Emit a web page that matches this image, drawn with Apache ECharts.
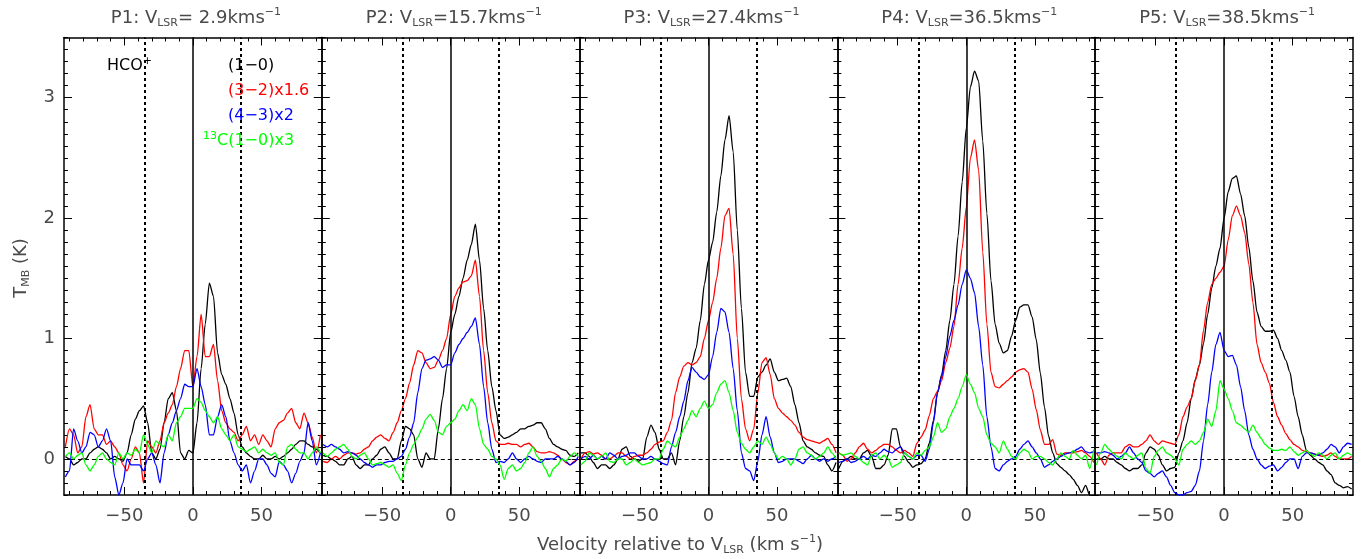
<!DOCTYPE html>
<html><head><meta charset="utf-8">
<script src="https://cdn.jsdelivr.net/npm/echarts@6/dist/echarts.min.js"></script>
<style>html,body{margin:0;padding:0;background:#fff}#c{width:1371px;height:559px}</style>
</head><body><div id="c"></div>
<script>
// velocity grid (km/s relative to V_LSR)
const vel = [-93,-90,-87,-84,-81,-78,-75,-72,-69,-66,-63,-60,-57,-54,-51,-48,-45,-42,-39,-36,-33,-30,-27,-24,-21,-18,-15,-12,-9,-6,-3,0,3,6,9,12,15,18,21,24,27,30,33,36,39,42,45,48,51,54,57,60,63,66,69,72,75,78,81,84,87,90,93];

// P1
const p1_10 = [0.02,0.0,-0.05,-0.03,0.0,0.0,0.05,0.08,0.1,0.08,0.05, 0.0,0.02,0.0,-0.02,0.05,0.2,0.33,0.4,0.44,0.3,0.05, 0.0,0.08,0.3,0.5,0.55,0.4,0.05,0.0,0.07,0.05,0.3, 0.75,1.12,1.46,1.35,0.88,0.7,0.62,0.5,0.38,0.2,0.1, 0.05,0.02,0.0,0.0,0.03,0.0,0.0,0.02,0.0,0.02,0.05, 0.08,0.12,0.15,0.15,0.12,0.1,0.08,0.05];
const p1_32 = [0.1,0.25,0.2,0.05,0.1,0.35,0.45,0.25,0.2,0.2,0.12, 0.15,0.1,0.05,-0.05,-0.1,0.0,0.1,0.05,-0.2,0.15,0.1, 0.05,0.15,0.3,0.38,0.45,0.6,0.75,0.9,0.9,0.6,0.85, 1.2,0.85,0.85,0.95,0.65,0.4,0.3,0.25,0.22,0.15,0.2, 0.27,0.15,0.2,0.12,0.2,0.15,0.1,0.25,0.3,0.32,0.38, 0.42,0.3,0.25,0.38,0.3,0.18,0.05,0.2];
const p1_43 = [-0.15,-0.1,0.25,0.15,0.05,0.1,0.22,0.2,0.1,0.15,0.25, 0.15,-0.15,-0.3,-0.2,0.0,-0.05,-0.05,-0.05,-0.1,0.0,0.05, -0.05,-0.2,0.05,0.2,0.3,0.4,0.5,0.62,0.6,0.6,0.75, 0.6,0.45,0.2,0.2,0.35,0.45,0.35,0.15,0.05,-0.05,-0.1, -0.05,-0.2,-0.1,0.0,0.0,-0.05,-0.12,-0.15,-0.02,-0.05,-0.1, -0.2,-0.12,-0.02,0.05,0.3,0.15,-0.05,0.05];
const p1_13 = [0.02,0.05,0.0,0.03,0.05,-0.05,-0.1,-0.05,0.02,0.05,0.0, -0.03,-0.05,0.05,0.0,0.05,0.03,0.08,0.05,0.2,0.12,0.05, 0.15,0.12,0.1,0.2,0.15,0.3,0.35,0.42,0.42,0.42,0.5, 0.47,0.4,0.35,0.3,0.35,0.25,0.2,0.15,0.2,0.1,0.08, 0.06,0.08,0.1,0.05,0.08,0.05,0.03,0.05,-0.03,-0.05,0.1, 0.12,0.08,0.05,0.05,0.0,0.05,0.1,0.05];
// P2
const p2_10 = [0.03,0.02,0.0,-0.02,-0.05,-0.05,0.0,0.02,-0.05,-0.08,-0.05, -0.05,0.0,0.03,0.08,0.1,0.05,0.0,0.0,0.15,0.27,0.25, 0.2,0.0,-0.07,0.05,0.0,0.0,0.25,0.5,0.75,1.05,1.2, 1.35,1.5,1.65,1.78,1.95,1.65,1.25,0.9,0.6,0.4,0.2, 0.17,0.18,0.2,0.22,0.25,0.25,0.27,0.28,0.3,0.3,0.25, 0.17,0.12,0.1,0.08,0.07,0.03,0.02,0.05];
const p2_32 = [-0.02,-0.03,0.0,0.02,0.0,0.03,0.05,0.05,0.04,0.05,0.08, 0.1,0.15,0.18,0.2,0.17,0.15,0.22,0.3,0.4,0.5,0.63, 0.78,0.9,0.88,0.8,0.75,0.76,0.82,0.9,1.0,1.2,1.35, 1.42,1.47,1.48,1.52,1.65,1.35,0.9,0.55,0.3,0.15,0.12, 0.12,0.13,0.12,0.12,0.1,0.12,0.13,0.1,0.06,0.05,0.05, 0.06,0.05,0.03,0.0,-0.03,-0.05,-0.02,0.0];
const p2_43 = [0.12,0.1,0.12,0.1,0.08,0.05,0.06,0.05,0.03,0.0,-0.03, -0.05,-0.07,-0.05,-0.05,-0.03,-0.02,-0.02,0.0,0.02,0.08,0.18, 0.3,0.55,0.75,0.82,0.83,0.85,0.82,0.76,0.78,0.78,0.88, 0.95,1.0,1.05,1.1,1.17,0.95,0.6,0.3,0.08,-0.03,-0.02, -0.03,0.0,0.05,0.0,-0.03,0.0,0.02,0.0,-0.02,-0.03,0.0, 0.0,0.0,0.02,0.0,-0.02,-0.05,-0.03,0.02];
const p2_13 = [0.05,0.02,0.05,0.08,0.1,0.12,0.08,0.02,0.0,0.03,0.05, 0.0,-0.05,-0.04,-0.03,-0.05,-0.07,-0.05,-0.12,-0.18,-0.05,0.05, 0.12,0.18,0.25,0.33,0.37,0.32,0.22,0.2,0.27,0.3,0.33, 0.4,0.45,0.4,0.5,0.45,0.25,0.12,0.08,0.02,0.0,-0.05, -0.17,-0.08,-0.05,-0.1,-0.08,-0.03,0.05,0.1,0.02,-0.02,-0.08, -0.15,-0.08,-0.05,0.0,-0.02,0.02,0.05,0.02];
// P3
const p3_10 = [0.05,0.05,0.02,-0.03,-0.08,-0.05,-0.05,-0.08,-0.05,0.0,0.08, 0.1,0.02,0.0,-0.02,0.0,0.18,0.28,0.22,0.08,0.0,0.0, 0.05,-0.05,0.15,0.35,0.55,0.8,0.92,1.15,1.45,1.65,1.8, 2.05,2.35,2.65,2.85,2.55,1.9,1.25,0.72,0.52,0.52,0.68, 0.72,0.78,0.83,0.72,0.65,0.66,0.67,0.6,0.45,0.3,0.15, 0.1,0.08,0.05,0.03,0.02,-0.05,-0.1,-0.03];
const p3_32 = [0.0,0.05,0.06,0.04,0.05,0.03,0.0,0.0,0.02,0.05,0.05, 0.02,0.0,0.02,0.03,0.03,0.05,0.08,0.12,0.14,0.15,0.22, 0.32,0.55,0.68,0.77,0.8,0.78,0.8,0.85,1.0,1.15,1.3, 1.5,1.75,2.02,2.08,1.7,1.0,0.5,0.25,0.15,0.25,0.55, 0.8,0.84,0.7,0.5,0.42,0.38,0.35,0.32,0.28,0.22,0.18, 0.16,0.15,0.14,0.13,0.15,0.17,0.12,0.05];
const p3_43 = [0.0,0.02,0.0,0.03,0.0,0.02,0.0,0.05,0.03,0.0,0.02, 0.03,0.05,0.05,0.02,0.0,0.0,0.02,0.0,-0.02,-0.04,-0.05, 0.1,0.22,0.35,0.48,0.65,0.76,0.72,0.68,0.66,0.7,0.85, 1.05,1.25,1.22,1.05,0.75,0.4,0.05,-0.08,-0.1,-0.18,-0.02, 0.2,0.35,0.18,0.05,-0.03,-0.02,0.0,0.0,0.0,-0.02,-0.04, 0.0,0.03,0.0,-0.02,0.0,-0.02,0.0,0.02];
const p3_13 = [-0.05,-0.02,0.05,0.03,0.0,0.02,0.05,-0.02,-0.03,0.0,0.0, -0.05,-0.03,0.0,-0.03,-0.05,-0.04,-0.03,0.0,0.0,0.08,0.15, 0.12,0.1,0.18,0.25,0.32,0.4,0.35,0.42,0.48,0.42,0.45, 0.55,0.62,0.65,0.55,0.4,0.22,0.13,0.08,0.05,0.1,0.15, 0.12,0.18,0.12,0.05,0.0,0.02,0.0,-0.05,0.0,0.08,0.1, 0.05,0.03,0.0,0.02,0.05,0.1,0.05,0.0];
// P4
const p4_10 = [-0.08,-0.02,0.0,0.02,0.0,0.0,0.05,0.07,0.02,-0.08,-0.08, -0.05,0.03,0.25,0.25,0.1,0.02,-0.03,-0.07,-0.05,-0.04,0.0, 0.13,0.32,0.55,0.7,0.9,1.15,1.45,1.85,2.3,2.75,3.09, 3.22,3.14,2.64,2.04,1.48,1.12,0.96,0.88,0.9,1.02,1.15, 1.26,1.28,1.28,1.18,0.99,0.71,0.43,0.19,0.05,-0.04,-0.07, -0.1,-0.13,-0.17,-0.22,-0.28,-0.22,-0.3,-0.35];
const p4_32 = [0.05,0.03,-0.02,0.0,0.05,0.1,0.13,0.08,0.05,0.07,0.1, 0.12,0.12,0.1,0.07,0.05,0.07,0.05,0.02,0.13,0.18,0.24, 0.36,0.5,0.56,0.65,0.8,0.92,1.1,1.45,1.75,2.09,2.5, 2.65,2.4,1.72,1.12,0.72,0.6,0.59,0.62,0.65,0.68,0.72, 0.74,0.75,0.72,0.58,0.41,0.24,0.12,0.12,0.16,0.04,0.03, 0.05,0.05,0.05,0.06,0.07,0.05,0.02,-0.03];
const p4_43 = [-0.03,-0.02,0.0,-0.03,-0.02,0.0,0.02,0.0,0.03,0.02,0.05, 0.08,0.06,0.05,0.08,0.1,0.05,0.02,0.0,0.03,0.03,-0.02, 0.08,0.3,0.55,0.68,0.85,1.02,1.15,1.28,1.45,1.57,1.5, 1.38,1.1,0.78,0.35,0.1,-0.08,-0.1,-0.05,-0.02,0.0,0.02, 0.08,0.12,0.15,0.1,0.05,0.0,-0.07,-0.05,-0.02,0.0,0.02, 0.04,0.05,0.06,0.08,0.1,0.06,0.05,0.06];
const p4_13 = [0.05,0.03,0.04,0.05,0.02,0.0,-0.03,-0.05,0.03,0.05,0.0, 0.03,0.0,-0.07,-0.05,-0.03,0.05,0.02,0.0,0.05,0.03,0.07, 0.1,0.18,0.3,0.22,0.25,0.35,0.42,0.5,0.6,0.7,0.62, 0.55,0.42,0.35,0.2,0.13,0.1,0.05,0.15,0.08,0.02,0.0, 0.05,0.08,0.06,0.0,0.02,0.02,0.0,-0.03,-0.05,0.0,0.05, 0.02,0.0,0.07,0.03,0.0,0.03,-0.08,0.08];
// P5
const p5_10 = [0.0,0.0,0.02,0.0,0.0,-0.03,-0.05,-0.08,-0.1,-0.08,-0.08, -0.05,0.05,0.1,0.08,0.03,-0.05,-0.1,-0.08,-0.07,0.05,0.15, 0.3,0.5,0.66,0.78,0.96,1.2,1.42,1.6,1.75,2.0,2.22, 2.33,2.35,2.2,2.02,1.76,1.48,1.22,1.1,1.06,1.06,1.07, 1.0,0.9,0.82,0.72,0.52,0.35,0.2,0.07,0.03,0.0,-0.03, -0.05,-0.1,-0.13,-0.2,-0.22,-0.24,-0.23,-0.25];
const p5_32 = [0.05,0.0,-0.05,0.03,0.05,0.05,0.05,0.1,0.12,0.1,0.1, 0.12,0.15,0.2,0.15,0.12,0.15,0.14,0.13,0.12,0.2,0.35, 0.43,0.5,0.65,0.78,1.07,1.3,1.45,1.5,1.55,1.6,1.82, 2.02,2.1,2.02,1.88,1.62,1.3,0.95,0.8,0.72,0.63,0.47, 0.35,0.28,0.21,0.16,0.12,0.1,0.07,0.06,0.05,0.04,0.03, 0.02,0.03,0.05,0.02,0.0,0.0,0.0,0.02];
const p5_43 = [0.05,0.05,0.06,0.05,0.03,0.0,0.02,0.05,0.1,0.05,0.0, -0.03,-0.1,-0.12,-0.15,-0.12,-0.1,-0.15,-0.22,-0.28,-0.3,-0.3, -0.28,-0.27,-0.22,-0.1,0.15,0.45,0.72,0.95,1.05,0.9,0.85, 0.86,0.78,0.6,0.4,0.2,0.08,0.0,-0.05,-0.08,-0.06,-0.05, -0.1,-0.07,-0.03,0.0,0.0,-0.08,0.02,0.05,0.05,0.04,0.03, 0.05,0.08,0.12,0.1,0.05,0.1,0.13,0.12];
const p5_13 = [-0.05,0.05,0.12,0.08,0.05,0.02,0.0,0.05,0.02,0.0,0.03, 0.05,-0.08,-0.12,0.02,0.07,0.1,0.05,0.03,0.0,-0.05,0.08, 0.12,0.15,0.12,0.15,0.22,0.33,0.27,0.4,0.65,0.58,0.5, 0.4,0.3,0.28,0.25,0.22,0.28,0.22,0.17,0.12,0.09,0.07, 0.07,0.08,0.07,0.1,0.06,0.03,0.05,0.07,0.04,0.02,0.05, 0.03,0.0,0.03,0.05,0.0,0.03,0.05,0.03];

const panelNames = ['P1', 'P2', 'P3', 'P4', 'P5'];
const vlsrText = ['= 2.9', '=15.7', '=27.4', '=36.5', '=38.5'];
const panelData = [
  [p1_10, p1_32, p1_43, p1_13],
  [p2_10, p2_32, p2_43, p2_13],
  [p3_10, p3_32, p3_43, p3_13],
  [p4_10, p4_32, p4_43, p4_13],
  [p5_10, p5_32, p5_43, p5_13]
];
const lineNames = ['(1-0)', '(3-2)x1.6', '(4-3)x2', '13C(1-0)x3'];
const lineColors = ['#000000', '#ff0000', '#0000ff', '#00ff00'];
const xMajorTicks = [-50, 0, 50];
const xMinorTicks = [-90, -80, -70, -60, -50, -40, -30, -20, -10, 0, 10, 20, 30, 40, 50, 60, 70, 80, 90];
const yMajorTicks = [0, 1, 2, 3];
const yMinorTicks = [];
for (let i = -3; i <= 35; i++) yMinorTicks.push(Math.round(i) / 10);
const dottedVel = [-35, 35];

const X0 = 64, PW = 257.8, TOP = 37.5, PH = 457.5;
const XMIN = -94, XMAX = 94, YMIN = -0.3, YMAX = 3.5;
const GRAY = '#4a4a4a';
const FONT = 'DejaVu Sans';
const minusFmt = v => (v < 0 ? '\u2212' : '') + Math.abs(v);

const grids = [], xAxes = [], yAxes = [], series = [], graphics = [];

function xAxis(k, pos, ticks, len, line, labels) {
  return {
    type: 'value', gridIndex: k, position: pos, min: XMIN, max: XMAX,
    axisLine: { show: line, onZero: false, lineStyle: { color: '#000', width: 1.5 } },
    axisTick: { show: true, inside: true, length: len, customValues: ticks, lineStyle: { color: '#000', width: 1 } },
    axisLabel: { show: labels, customValues: xMajorTicks, formatter: minusFmt, color: GRAY, fontSize: 18, fontFamily: FONT, margin: 12 },
    splitLine: { show: false }
  };
}
function yAxis(k, pos, ticks, len, line, labels) {
  return {
    type: 'value', gridIndex: k, position: pos, min: YMIN, max: YMAX,
    axisLine: { show: line, onZero: false, lineStyle: { color: '#000', width: 1.5 } },
    axisTick: { show: true, inside: true, length: len, customValues: ticks, lineStyle: { color: '#000', width: 1 } },
    axisLabel: { show: labels, customValues: yMajorTicks, color: GRAY, fontSize: 18, fontFamily: FONT, margin: 9 },
    splitLine: { show: false }
  };
}

for (let k = 0; k < 5; k++) {
  const left = X0 + k * PW;
  grids.push({ left: left, top: TOP, width: PW, height: PH, containLabel: false, outerBoundsMode: 'none' });
  const xi = xAxes.length, yi = yAxes.length;
  xAxes.push(xAxis(k, 'bottom', xMajorTicks, 8, true, true));
  xAxes.push(xAxis(k, 'bottom', xMinorTicks, 4, false, false));
  xAxes.push(xAxis(k, 'top', xMajorTicks, 8, true, false));
  xAxes.push(xAxis(k, 'top', xMinorTicks, 4, false, false));
  yAxes.push(yAxis(k, 'left', yMajorTicks, 8, true, k === 0));
  yAxes.push(yAxis(k, 'left', yMinorTicks, 4, false, false));
  yAxes.push(yAxis(k, 'right', yMajorTicks, 8, true, false));
  yAxes.push(yAxis(k, 'right', yMinorTicks, 4, false, false));

  panelData[k].forEach((arr, j) => {
    const s = {
      type: 'line', name: panelNames[k] + ' ' + lineNames[j], xAxisIndex: xi, yAxisIndex: yi,
      data: vel.map((v, i) => [v, arr[i]]),
      showSymbol: false, symbol: 'none', silent: true, animation: false, clip: true,
      smooth: 0.25, smoothMonotone: 'x',
      lineStyle: { color: lineColors[j], width: 1.3 }, itemStyle: { color: lineColors[j] }, z: 3 + j
    };
    if (j === 0) {
      s.markLine = {
        silent: true, animation: false, symbol: ['none', 'none'], label: { show: false },
        data: [
          { xAxis: 0, lineStyle: { type: 'solid', width: 1.5, color: '#000' } },
          { xAxis: dottedVel[0], lineStyle: { type: [3, 3], width: 2, color: '#000' } },
          { xAxis: dottedVel[1], lineStyle: { type: [3, 3], width: 2, color: '#000' } },
          { yAxis: 0, lineStyle: { type: [4, 3], width: 1, color: '#000' } }
        ]
      };
    }
    series.push(s);
  });

  graphics.push({
    type: 'text', x: left + PW / 2 + 3, y: 18, z: 100,
    style: {
      text: '{a|' + panelNames[k] + ': V}{s|LSR}{a|' + vlsrText[k] + 'kms}{p|\u22121}',
      align: 'center', verticalAlign: 'middle',
      rich: {
        a: { fontSize: 18, fontFamily: FONT, fill: GRAY, lineHeight: 22 },
        s: { fontSize: 11, fontFamily: FONT, fill: GRAY, lineHeight: 10, verticalAlign: 'bottom' },
        p: { fontSize: 11, fontFamily: FONT, fill: GRAY, lineHeight: 16, verticalAlign: 'top' }
      }
    }
  });
}

function legendText(txt, x, y, color) {
  return {
    type: 'text', x: x, y: y, z: 100,
    style: {
      text: txt, align: 'left', verticalAlign: 'middle',
      rich: {
        a: { fontSize: 16, fontFamily: FONT, fill: color, lineHeight: 20 },
        p: { fontSize: 11, fontFamily: FONT, fill: color, lineHeight: 14, verticalAlign: 'top' }
      }
    }
  };
}
graphics.push(legendText('{a|HCO}{p|+}', 107, 66, '#000'));
graphics.push(legendText('{a|(1\u22120)}', 228, 66, lineColors[0]));
graphics.push(legendText('{a|(3\u22122)x1.6}', 228, 91, lineColors[1]));
graphics.push(legendText('{a|(4\u22123)x2}', 228, 116, lineColors[2]));
graphics.push(legendText('{p|13}{a|C(1\u22120)x3}', 203, 141, lineColors[3]));

graphics.push({
  type: 'text', x: 680, y: 545, z: 100,
  style: {
    text: '{a|Velocity relative to V}{s|LSR}{a| (km s}{p|\u22121}{a|)}',
    align: 'center', verticalAlign: 'middle',
    rich: {
      a: { fontSize: 18, fontFamily: FONT, fill: GRAY, lineHeight: 22 },
      s: { fontSize: 11, fontFamily: FONT, fill: GRAY, lineHeight: 10, verticalAlign: 'bottom' },
      p: { fontSize: 11, fontFamily: FONT, fill: GRAY, lineHeight: 16, verticalAlign: 'top' }
    }
  }
});
graphics.push({
  type: 'text', x: 21, y: 268, rotation: Math.PI / 2, z: 100,
  style: {
    text: '{a|T}{s|MB}{a| (K)}',
    align: 'center', verticalAlign: 'middle',
    rich: {
      a: { fontSize: 18, fontFamily: FONT, fill: GRAY, lineHeight: 22 },
      s: { fontSize: 11, fontFamily: FONT, fill: GRAY, lineHeight: 10, verticalAlign: 'bottom' }
    }
  }
});

const chart = echarts.init(document.getElementById('c'), null, { renderer: 'canvas' });
chart.setOption({
  backgroundColor: '#ffffff',
  animation: false,
  grid: grids,
  xAxis: xAxes,
  yAxis: yAxes,
  series: series,
  graphic: graphics
});
</script>
</body></html>
